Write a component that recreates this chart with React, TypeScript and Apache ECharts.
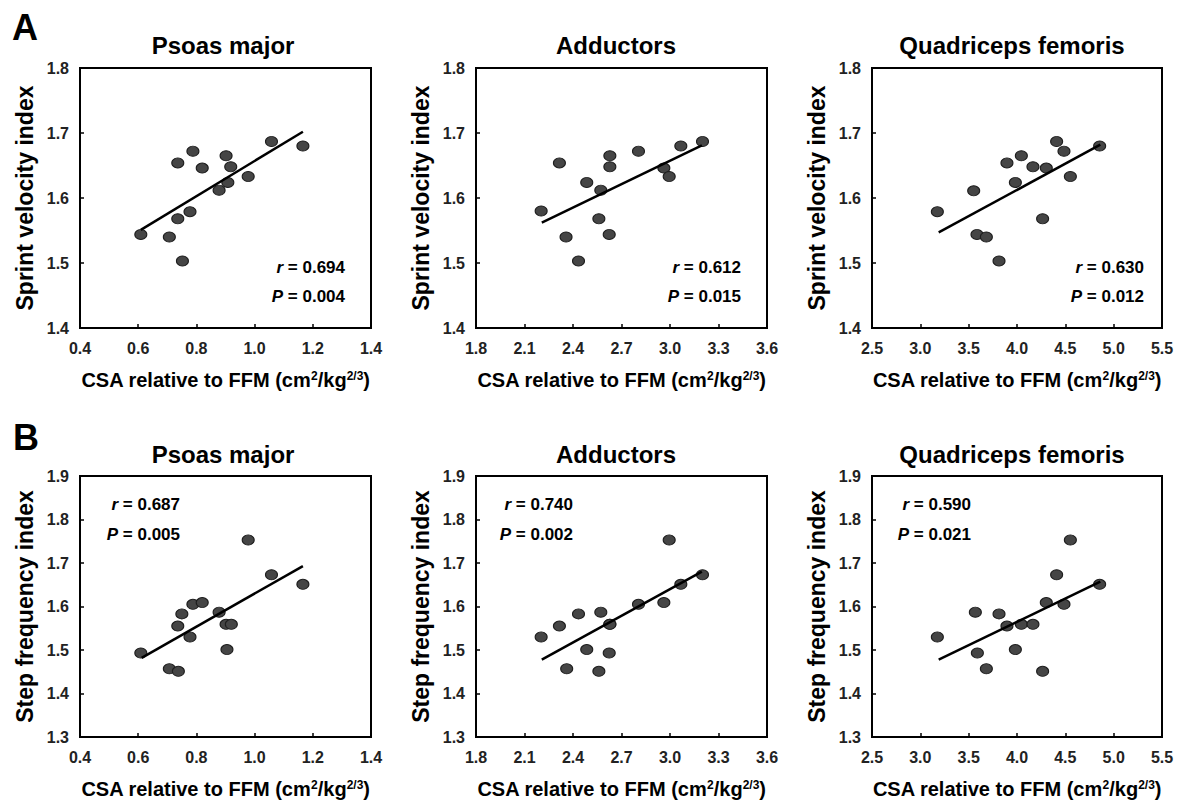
import React, { useEffect, useRef } from "react";
import * as echarts from "echarts";

// ---------- data ----------
const muscles = ["Psoas major", "Adductors", "Quadriceps femoris"];
const xRanges = [
  [0.4, 1.4, 0.2],
  [1.8, 3.6, 0.3],
  [2.5, 5.5, 0.5],
];
const yRangeA = [1.4, 1.8, 0.1];
const yRangeB = [1.3, 1.9, 0.1];
const yNameA = "Sprint velocity index";
const yNameB = "Step frequency index";

// Row A: sprint velocity index
const psoasA_x = [0.609, 0.707, 0.752, 0.736, 0.736, 0.788, 0.778, 0.82, 0.878, 0.902, 0.908, 0.918, 0.978, 1.058, 1.166];
const sprintPsoas_y = [1.544, 1.54, 1.503, 1.568, 1.654, 1.672, 1.579, 1.646, 1.612, 1.665, 1.624, 1.648, 1.633, 1.687, 1.68];
const addA_x = [2.203, 2.316, 2.357, 2.434, 2.485, 2.572, 2.56, 2.624, 2.628, 2.628, 2.805, 2.962, 2.995, 3.067, 3.201];
const sprintAdd_y = [1.58, 1.654, 1.54, 1.503, 1.624, 1.612, 1.568, 1.544, 1.665, 1.648, 1.672, 1.646, 1.633, 1.68, 1.687];
const quadA_x = [3.176, 3.552, 3.586, 3.683, 3.814, 3.896, 3.983, 4.045, 4.165, 4.265, 4.303, 4.41, 4.486, 4.552, 4.855];
const sprintQuad_y = [1.579, 1.611, 1.544, 1.54, 1.503, 1.654, 1.624, 1.665, 1.648, 1.568, 1.646, 1.687, 1.672, 1.633, 1.68];

// Row B: step frequency index
const psoasB_x = [0.609, 0.707, 0.738, 0.736, 0.75, 0.778, 0.788, 0.82, 0.878, 0.905, 0.902, 0.92, 0.978, 1.058, 1.166];
const stepPsoas_y = [1.493, 1.457, 1.451, 1.555, 1.583, 1.53, 1.605, 1.609, 1.587, 1.501, 1.559, 1.559, 1.753, 1.673, 1.651];
const addB_x = [2.203, 2.316, 2.361, 2.434, 2.485, 2.572, 2.56, 2.624, 2.628, 2.628, 2.805, 2.962, 2.995, 3.067, 3.201];
const stepAdd_y = [1.53, 1.555, 1.457, 1.583, 1.501, 1.587, 1.451, 1.493, 1.559, 1.559, 1.605, 1.609, 1.753, 1.651, 1.673];
const quadB_x = [3.176, 3.569, 3.59, 3.683, 3.814, 3.896, 3.983, 4.045, 4.165, 4.265, 4.303, 4.41, 4.486, 4.552, 4.855];
const stepQuad_y = [1.53, 1.587, 1.493, 1.457, 1.583, 1.555, 1.501, 1.559, 1.559, 1.451, 1.609, 1.673, 1.605, 1.753, 1.651];

// Regression line end points
const trendA_x = [[0.609, 1.166], [2.207, 3.197], [3.19, 4.862]];
const trendA_y = [[1.551, 1.702], [1.562, 1.681], [1.547, 1.682]];
const trendB_x = [[0.612, 1.166], [2.207, 3.197], [3.19, 4.862]];
const trendB_y = [[1.482, 1.693], [1.478, 1.68], [1.478, 1.657]];

// Statistics
const rA = ["0.694", "0.612", "0.630"];
const pA = ["0.004", "0.015", "0.012"];
const rB = ["0.687", "0.740", "0.590"];
const pB = ["0.005", "0.002", "0.021"];

// ---------- layout ----------
const FONT = "'Liberation Sans', Arial, Helvetica, sans-serif";
const colLeft = [80, 476, 872];
const colWidth = [291, 291, 290];
const rowTop = [68, 476];
const rowHeight = [260, 261];
const titleX = [223, 616, 1012];
const titleY = [45, 454];
const statRightA = [345, 741, 1144];
const statRightB = [180, 573, 971];
const statYA = [267, 296];
const statYB = [504, 534];

const zip = (xs: number[], ys: number[]) => xs.map((x, i) => [x, ys[i]]);

export default function App() {
  const ref = useRef<HTMLDivElement>(null);

  useEffect(() => {
    document.body.style.margin = "0";
    const chart = echarts.init(ref.current!, null, { renderer: "svg" });

    const scatterData = [
      zip(psoasA_x, sprintPsoas_y),
      zip(addA_x, sprintAdd_y),
      zip(quadA_x, sprintQuad_y),
      zip(psoasB_x, stepPsoas_y),
      zip(addB_x, stepAdd_y),
      zip(quadB_x, stepQuad_y),
    ];
    const trendData = [
      ...trendA_x.map((xs, i) => zip(xs, trendA_y[i])),
      ...trendB_x.map((xs, i) => zip(xs, trendB_y[i])),
    ];

    const grids: any[] = [];
    const xAxes: any[] = [];
    const yAxes: any[] = [];
    const series: any[] = [];
    const graphics: any[] = [];

    for (let row = 0; row < 2; row++) {
      for (let col = 0; col < 3; col++) {
        const idx = row * 3 + col;
        const yr = row === 0 ? yRangeA : yRangeB;
        const xr = xRanges[col];
        grids.push({
          left: colLeft[col],
          top: rowTop[row],
          width: colWidth[col],
          height: rowHeight[row],
          show: true,
          borderColor: "#000",
          borderWidth: 2,
        });
        xAxes.push({
          gridIndex: idx,
          type: "value",
          min: xr[0],
          max: xr[1],
          interval: xr[2],
          axisLine: { show: true, onZero: false, lineStyle: { color: "#000", width: 2 } },
          axisTick: { show: true, inside: true, length: 4, lineStyle: { color: "#000", width: 1.5 } },
          splitLine: { show: false },
          axisLabel: {
            color: "#222",
            fontWeight: "bold",
            fontSize: 16,
            fontFamily: FONT,
            margin: 12,
            formatter: (v: number) => v.toFixed(1),
          },
          name: "CSA relative to FFM (cm{s|2}/kg{s|2/3})",
          nameLocation: "middle",
          nameGap: 42,
          nameTextStyle: {
            color: "#000",
            fontWeight: "bold",
            fontSize: 20,
            fontFamily: FONT,
            rich: {
              s: { fontSize: 12, fontWeight: "bold", fontFamily: FONT, color: "#000", verticalAlign: "top" },
            },
          },
        });
        yAxes.push({
          gridIndex: idx,
          type: "value",
          min: yr[0],
          max: yr[1],
          interval: yr[2],
          axisLine: { show: true, onZero: false, lineStyle: { color: "#000", width: 2 } },
          axisTick: { show: true, inside: true, length: 4, lineStyle: { color: "#000", width: 1.5 } },
          splitLine: { show: false },
          axisLabel: {
            color: "#222",
            fontWeight: "bold",
            fontSize: 16,
            fontFamily: FONT,
            margin: 11,
            formatter: (v: number) => v.toFixed(1),
          },
          name: row === 0 ? yNameA : yNameB,
          nameLocation: "middle",
          nameRotate: 90,
          nameGap: 44,
          nameTextStyle: { color: "#000", fontWeight: "bold", fontSize: 23, fontFamily: FONT },
        });
        series.push({
          type: "scatter",
          xAxisIndex: idx,
          yAxisIndex: idx,
          data: scatterData[idx],
          symbol: "circle",
          symbolSize: [12, 10],
          itemStyle: { color: "#454545", borderColor: "#1e1e1e", borderWidth: 1, opacity: 1 },
          z: 2,
        });
        series.push({
          type: "line",
          xAxisIndex: idx,
          yAxisIndex: idx,
          data: trendData[idx],
          symbol: "none",
          lineStyle: { color: "#000", width: 2.5 },
          z: 3,
        });

        // Title
        graphics.push({
          type: "text",
          x: titleX[col],
          y: titleY[row],
          silent: true,
          style: {
            text: muscles[col],
            font: `bold 24px ${FONT}`,
            fill: "#000",
            textAlign: "center",
            textVerticalAlign: "middle",
          },
        });
        // Stats
        const rx = row === 0 ? statRightA[col] : statRightB[col];
        const sy = row === 0 ? statYA : statYB;
        const rv = row === 0 ? rA[col] : rB[col];
        const pv = row === 0 ? pA[col] : pB[col];
        const rich = { i: { fontStyle: "italic", fontWeight: "bold", fontSize: 17, fontFamily: FONT, fill: "#000", textFill: "#000" } };
        graphics.push({
          type: "text",
          x: rx,
          y: sy[0],
          silent: true,
          style: {
            text: `{i|r} = ${rv}`,
            font: `bold 17px ${FONT}`,
            fill: "#000",
            textAlign: "right",
            textVerticalAlign: "middle",
            rich,
          },
        });
        graphics.push({
          type: "text",
          x: rx,
          y: sy[1],
          silent: true,
          style: {
            text: `{i|P} = ${pv}`,
            font: `bold 17px ${FONT}`,
            fill: "#000",
            textAlign: "right",
            textVerticalAlign: "middle",
            rich,
          },
        });
      }
    }

    graphics.push({
      type: "text",
      x: 12,
      y: 27,
      silent: true,
      style: { text: "A", font: `bold 36px ${FONT}`, fill: "#000", textAlign: "left", textVerticalAlign: "middle" },
    });
    graphics.push({
      type: "text",
      x: 13,
      y: 437,
      silent: true,
      style: { text: "B", font: `bold 36px ${FONT}`, fill: "#000", textAlign: "left", textVerticalAlign: "middle" },
    });

    chart.setOption({
      animation: false,
      backgroundColor: "#fff",
      grid: grids,
      xAxis: xAxes,
      yAxis: yAxes,
      series,
      graphic: { elements: graphics },
    });

    return () => chart.dispose();
  }, []);

  return <div ref={ref} style={{ width: 1183, height: 803 }} />;
}
